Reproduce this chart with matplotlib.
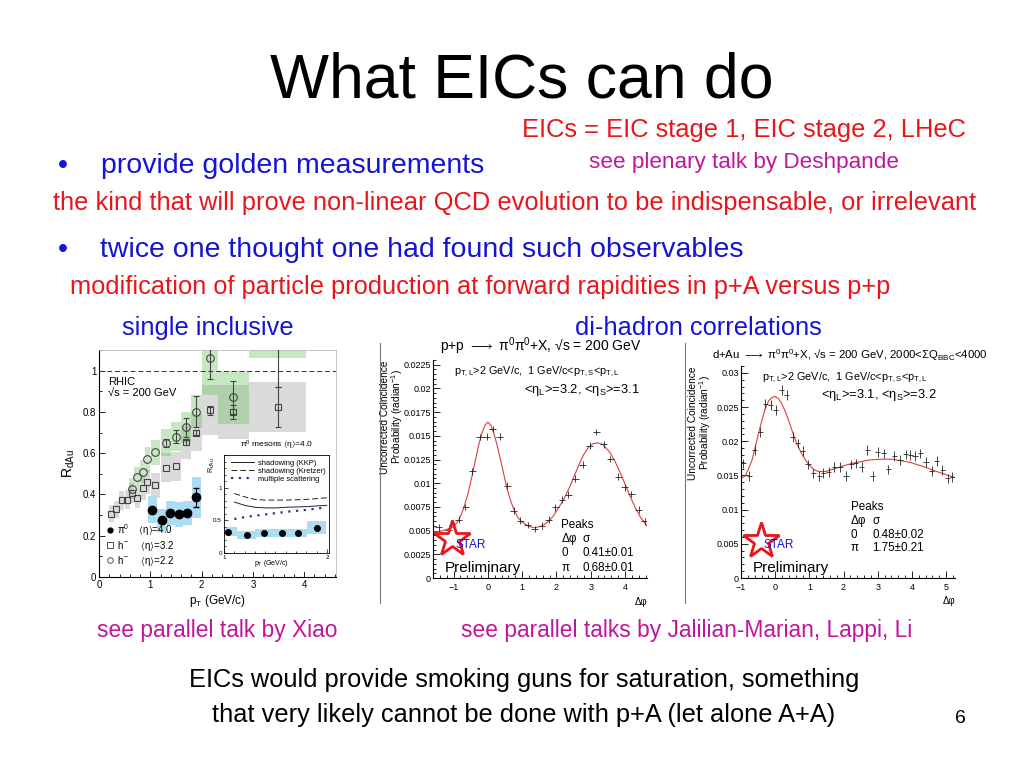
import numpy as np
import matplotlib
matplotlib.use("Agg")
import matplotlib.pyplot as plt
from matplotlib.lines import Line2D
from matplotlib.ticker import MultipleLocator, FuncFormatter

plt.rcParams['font.family'] = ['Liberation Sans', 'DejaVu Sans']
plt.rcParams['mathtext.default'] = 'regular'

RED = '#e8161c'
BLUE = '#1414d2'
MAGENTA = '#c0169c'
nan = np.nan

# ---- single inclusive R_dAu ----
# h- <eta>=2.2 (open circles, green boxes)
h22_pt = [0.64, 0.74, 0.85, 0.94, 1.10, 1.30, 1.50, 1.70, 1.90, 2.16, 2.62, 3.48]
h22_r = [0.428, 0.485, 0.51, 0.57, 0.605, 0.65, 0.68, 0.725, 0.80, 1.06, 0.87, 1.25]
h22_err_lo = [nan, nan, nan, nan, nan, 0.02, 0.03, 0.045, 0.075, 0.10, 0.08, 0.33]
h22_err_hi = [nan, nan, nan, nan, nan, 0.02, 0.03, 0.045, 0.075, 0.10, 0.08, 0.30]
h22_sys = [0.05, 0.05, 0.055, 0.06, 0.06, 0.065, 0.07, 0.075, 0.08, 0.18, 0.13, 0.19]
h22_dx = [0.05, 0.05, 0.05, 0.05, 0.08, 0.1, 0.1, 0.1, 0.1, 0.15, 0.3, 0.55]

# h- <eta>=3.2 (open squares, grey boxes)
h32_pt = [0.24, 0.34, 0.44, 0.55, 0.64, 0.75, 0.86, 0.94, 1.10, 1.30, 1.50, 1.70, 1.90, 2.16, 2.62, 3.48]
h32_r = [0.307, 0.328, 0.372, 0.375, 0.407, 0.385, 0.43, 0.46, 0.444, 0.53, 0.536, 0.654, 0.70, 0.808, 0.80, 0.824]
h32_err = [nan, nan, nan, nan, nan, nan, nan, nan, nan, nan, nan, 0.012, 0.014, 0.022, 0.035, 0.095]
h32_sys = [0.04, 0.04, 0.045, 0.045, 0.05, 0.05, 0.055, 0.06, 0.06, 0.07, 0.07, 0.08, 0.09, 0.12, 0.13, 0.12]
h32_dx = [0.05, 0.05, 0.05, 0.05, 0.05, 0.05, 0.05, 0.05, 0.08, 0.1, 0.1, 0.1, 0.1, 0.15, 0.3, 0.55]

# pi0 <eta>=4.0 (filled circles, blue boxes)
pi0_pt = [1.04, 1.22, 1.39, 1.56, 1.72, 1.90]
pi0_r = [0.326, 0.275, 0.31, 0.304, 0.31, 0.386]
pi0_err = [nan, nan, nan, nan, nan, 0.047]
pi0_sys = [0.065, 0.055, 0.06, 0.06, 0.06, 0.10]
pi0_dx = [0.09, 0.09, 0.085, 0.085, 0.085, 0.09]

# inset model curves
mod_pt = [1.1, 1.2, 1.3, 1.4, 1.5, 1.6, 1.8, 2.0]
kkp_r = [0.78, 0.73, 0.70, 0.69, 0.69, 0.70, 0.71, 0.73]
kretzer_r = [0.91, 0.86, 0.82, 0.81, 0.81, 0.81, 0.82, 0.845]
mscat_r = [0.52, 0.55, 0.57, 0.59, 0.61, 0.63, 0.66, 0.70]

# ---- di-hadron correlations ----
pp_phi = [-1.43, -1.14, -0.85, -0.66, -0.46, -0.24, -0.04, 0.14, 0.34, 0.56, 0.75, 0.95, 1.16, 1.36, 1.58,
          1.77, 1.97, 2.16, 2.34, 2.55, 2.77, 2.97, 3.16, 3.38, 3.57, 3.80, 3.99, 4.18, 4.40, 4.57]
pp_prob = [0.00534, 0.0051, 0.00615, 0.00749, 0.01124, 0.01487, 0.0149, 0.01572, 0.0149, 0.00973, 0.0071,
           0.00604, 0.00559, 0.00517, 0.00552, 0.00615, 0.00745, 0.00826, 0.00879, 0.01048, 0.01195,
           0.01395, 0.0154, 0.0141, 0.01255, 0.0107, 0.00956, 0.00886, 0.0072, 0.00597]
pp_fit_phi = [-1.6, -1.3, -1.0, -0.85, -0.71, -0.58, -0.46, -0.36, -0.27, -0.18, -0.09, 0.0, 0.09, 0.18,
              0.27, 0.36, 0.46, 0.56, 0.66, 0.75, 0.87, 1.0, 1.17, 1.34, 1.5, 1.63, 1.78, 1.92, 2.06, 2.21,
              2.36, 2.50, 2.65, 2.79, 2.94, 3.08, 3.2, 3.35, 3.57, 3.72, 3.86, 4.0, 4.15, 4.3, 4.45, 4.64]
pp_fit = [0.0048, 0.0050, 0.0054, 0.0061, 0.0073, 0.0089, 0.0108, 0.0125, 0.0140, 0.0152, 0.0161, 0.01645,
          0.0161, 0.0152, 0.0140, 0.0126, 0.0110, 0.0094, 0.0082, 0.0073, 0.0064, 0.0059, 0.0055, 0.0053,
          0.0054, 0.0056, 0.0060, 0.0066, 0.0074, 0.0083, 0.0094, 0.0106, 0.0119, 0.0130, 0.0138, 0.0142,
          0.01425, 0.0141, 0.0132, 0.0122, 0.0111, 0.0099, 0.0086, 0.0074, 0.0064, 0.0055]

dau_phi = [-0.93, -0.76, -0.60, -0.44, -0.29, -0.13, 0.02, 0.19, 0.34, 0.51, 0.66, 0.81, 0.96, 1.12, 1.29,
           1.41, 1.56, 1.73, 1.90, 2.07, 2.22, 2.36, 2.53, 2.70, 2.85, 3.0, 3.17, 3.31, 3.49, 3.65, 3.82,
           3.95, 4.09, 4.24, 4.41, 4.58, 4.73, 4.89, 5.05, 5.18]
dau_prob = [0.01676, 0.01491, 0.0187, 0.02137, 0.02551, 0.02526, 0.02453, 0.02745, 0.02672, 0.02064,
            0.01968, 0.0186, 0.01662, 0.01531, 0.01491, 0.01539, 0.01554, 0.01627, 0.01627, 0.01491,
            0.01662, 0.01676, 0.01627, 0.0187, 0.01491, 0.01845, 0.01822, 0.01589, 0.01783, 0.01724,
            0.01808, 0.01797, 0.01783, 0.01822, 0.017, 0.01564, 0.01714, 0.01579, 0.01458, 0.01481]
dau_fit_phi = [-1.0, -0.88, -0.78, -0.68, -0.58, -0.49, -0.39, -0.29, -0.19, -0.10, 0.0, 0.1, 0.19, 0.29,
               0.39, 0.51, 0.63, 0.75, 0.88, 1.0, 1.12, 1.25, 1.37, 1.5, 1.75, 2.0, 2.24, 2.5, 2.73, 3.0,
               3.22, 3.45, 3.70, 3.95, 4.19, 4.45, 4.68, 4.95, 5.17, 5.26]
dau_fit = [0.0146, 0.0149, 0.0160, 0.0172, 0.0192, 0.0211, 0.0230, 0.0248, 0.0259, 0.0264, 0.02655, 0.0262,
           0.0255, 0.0244, 0.0231, 0.0213, 0.0197, 0.0184, 0.0173, 0.0165, 0.0159, 0.0156, 0.01555, 0.0156,
           0.0160, 0.0164, 0.01676, 0.0170, 0.01724, 0.01735, 0.01739, 0.01735, 0.01714, 0.0169, 0.01652,
           0.0161, 0.01564, 0.0152, 0.01481, 0.0147]


def px(x, y, w, h):
    # pixel box (left, top, width, height) -> figure fraction rect
    return [x / 1024, 1 - (y + h) / 768, w / 1024, h / 768]


fig = plt.figure(figsize=(10.24, 7.68), dpi=100)


# ---------- slide text ----------
def txt(x, y, s, size, color, ha='left'):
    fig.text(x / 1024, 1 - y / 768, s, fontsize=size, color=color, ha=ha, va='baseline')


txt(522, 97, 'What EICs can do', 45, 'black', ha='center')
txt(522, 137, 'EICs = EIC stage 1, EIC stage 2, LHeC', 18.4, RED)
txt(58, 173, '•', 20.5, BLUE)
txt(101, 173, 'provide golden measurements', 20.5, BLUE)
txt(589, 168, 'see plenary talk by Deshpande', 16.2, MAGENTA)
txt(53, 210, 'the kind that will prove non-linear QCD evolution to be indispensable, or irrelevant', 18.4, RED)
txt(58, 257, '•', 20.5, BLUE)
txt(100, 257, 'twice one thought one had found such observables', 20.5, BLUE)
txt(70, 294, 'modification of particle production at forward rapidities in p+A versus p+p', 18.3, RED)
txt(122, 335, 'single inclusive', 18.3, BLUE)
txt(575, 335, 'di-hadron correlations', 18.3, BLUE)
txt(97, 637, 'see parallel talk by Xiao', 16.4, MAGENTA)
txt(461, 637, 'see parallel talks by Jalilian-Marian, Lappi, Li', 16.4, MAGENTA)
txt(524, 687, 'EICs would provide smoking guns for saturation, something', 18.3, 'black', ha='center')
txt(524, 722, 'that very likely cannot be done with p+A (let alone A+A)', 18.3, 'black', ha='center')
txt(955, 723, '6', 14, 'black')

# panel borders
for xb in (380, 685):
    fig.add_artist(Line2D([xb / 1024] * 2, [1 - 343 / 768, 1 - 603 / 768], color='#777777', lw=0.8))

# ---------- R_dAu panel ----------
ax = fig.add_axes(px(99, 350, 237, 227))
ax.set_xlim(0, 4.62)
ax.set_ylim(0, 1.10)

h32_lo = np.array(h32_r) - np.array(h32_sys)
ax.bar(h32_pt, 2 * np.array(h32_sys), bottom=h32_lo, width=2 * np.array(h32_dx),
       color='#dadada', lw=0, zorder=1)
h22_lo = np.array(h22_r) - np.array(h22_sys)
ax.bar(h22_pt, 2 * np.array(h22_sys), bottom=h22_lo, width=2 * np.array(h22_dx),
       color='#6cc063', alpha=0.38, lw=0, zorder=2)
pi0_lo = np.array(pi0_r) - np.array(pi0_sys)
ax.bar(pi0_pt, 2 * np.array(pi0_sys), bottom=pi0_lo, width=2 * np.array(pi0_dx),
       color='#abdcf1', lw=0, zorder=2)

ax.axhline(1, ls=(0, (5, 3)), color='#333333', lw=0.7, zorder=3)

ax.errorbar(h32_pt, h32_r, yerr=h32_err, fmt='s', ms=5, mfc='none', mec='#444444', mew=0.8,
            ecolor='#444444', elinewidth=0.8, capsize=2.5, zorder=4)
ax.errorbar(h22_pt, h22_r, yerr=[h22_err_lo, h22_err_hi], fmt='o', ms=5.5, mfc='none', mec='#444444',
            mew=0.8, ecolor='#444444', elinewidth=0.8, capsize=2.5, zorder=4)
ax.errorbar(pi0_pt, pi0_r, yerr=pi0_err, fmt='o', ms=6, color='black', elinewidth=0.8, capsize=2.5, zorder=4)

ax.xaxis.set_major_locator(MultipleLocator(1))
ax.xaxis.set_minor_locator(MultipleLocator(0.2))
ax.yaxis.set_major_locator(MultipleLocator(0.2))
ax.yaxis.set_minor_locator(MultipleLocator(0.1))
ax.yaxis.set_major_formatter(FuncFormatter(lambda v, p: '%g' % round(v, 4)))
ax.tick_params(which='both', direction='in', width=0.6, labelsize=7, pad=2)
ax.tick_params(which='major', length=4)
ax.tick_params(which='minor', length=2)
for s in ('top', 'right'):
    ax.spines[s].set_color('#bbbbbb')
    ax.spines[s].set_linewidth(0.6)
ax.set_xlabel('p$_T$ (GeV/c)', fontsize=8.5, labelpad=2)
ax.set_ylabel('R$_{dAu}$', fontsize=10, labelpad=4)
ax.text(0.04, 0.88, 'RHIC\n√s = 200 GeV', transform=ax.transAxes, fontsize=8, va='top', linespacing=1.05)

leg_h = [Line2D([], [], marker='o', ls='none', color='black', ms=3.5),
         Line2D([], [], marker='s', ls='none', mfc='none', mec='#333333', mew=0.6, ms=4),
         Line2D([], [], marker='o', ls='none', mfc='none', mec='#333333', mew=0.6, ms=4)]
leg_l = [r'$\pi^0$    $\langle\eta\rangle$=4.0', r'$h^-$    $\langle\eta\rangle$=3.2',
         r'$h^-$    $\langle\eta\rangle$=2.2']
ax.legend(leg_h, leg_l, loc='lower left', bbox_to_anchor=(0.0, 0.01), fontsize=7, frameon=False,
          handlelength=0.8, handletextpad=0.4, labelspacing=0.2, borderpad=0.2)

# inset
bg = fig.add_axes(px(210, 443, 126, 129))
bg.set_xticks([])
bg.set_yticks([])
for s in bg.spines.values():
    s.set_visible(False)
bg.set_zorder(5)

ins = fig.add_axes(px(224, 455, 105, 98))
ins.set_zorder(6)
ins.set_xlim(1, 2.02)
ins.set_ylim(0, 1.5)
ins.bar(pi0_pt, 2 * np.array(pi0_sys), bottom=pi0_lo, width=2 * np.array(pi0_dx), color='#abdcf1', lw=0)
ins.plot(pi0_pt, pi0_r, 'o', color='black', ms=4)
l1, = ins.plot(mod_pt, kkp_r, '-', color='#222222', lw=0.7)
l2, = ins.plot(mod_pt, kretzer_r, ls=(0, (6, 3)), color='#222222', lw=0.7)
l3, = ins.plot(mod_pt, mscat_r, ls=(0, (1, 2.5)), color='#2b3590', lw=1.6)
ins.legend([l1, l2, l3], ['shadowing (KKP)', 'shadowing (Kretzer)', 'multiple scattering'],
           loc='upper left', bbox_to_anchor=(0.02, 1.01), fontsize=5.4, frameon=False,
           handlelength=3.0, handletextpad=0.5, labelspacing=0.1, borderpad=0.2)
ins.set_xticks([1, 2])
ins.set_yticks([0, 0.5, 1])
ins.xaxis.set_minor_locator(MultipleLocator(0.1))
ins.yaxis.set_minor_locator(MultipleLocator(0.1))
ins.yaxis.set_major_formatter(FuncFormatter(lambda v, p: '%g' % v))
ins.tick_params(which='both', direction='in', width=0.5, labelsize=4.5, pad=1.5)
ins.tick_params(which='major', length=3)
ins.tick_params(which='minor', length=1.5)
for s in ins.spines.values():
    s.set_linewidth(0.6)
ins.text(0.45, -0.05, 'p$_T$ (GeV/c)', transform=ins.transAxes, fontsize=5, ha='center', va='top')
ins.text(-0.07, 0.98, 'R$_{dAu}$', transform=ins.transAxes, fontsize=5, rotation=90, ha='right', va='top')
ins.text(0.5, 1.03, r'$\pi^0$ mesons $\langle\eta\rangle$=4.0', transform=ins.transAxes, fontsize=6,
         ha='center', va='bottom')


# ---------- di-hadron panels ----------
def corr_panel(rect, phi, prob, xerr, yerr, fit_phi, fit_prob, xlim, ylim, ystep,
               title, title_x, title_size, eta_text, eta_x, peaks, peaks_x, peaks_y, star_xy, star_txt,
               ylab_x):
    a = fig.add_axes(rect)
    a.set_xlim(*xlim)
    a.set_ylim(*ylim)
    a.plot(fit_phi, fit_prob, color='#e23b3b', lw=0.8)
    a.errorbar(phi, prob, xerr=xerr, yerr=yerr, fmt='none', ecolor='#222222', elinewidth=0.6)
    a.xaxis.set_major_locator(MultipleLocator(1))
    a.xaxis.set_minor_locator(MultipleLocator(0.2))
    a.yaxis.set_major_locator(MultipleLocator(ystep))
    a.yaxis.set_minor_locator(MultipleLocator(ystep / 5))
    a.yaxis.set_major_formatter(FuncFormatter(lambda v, p: '%g' % round(v, 6)))
    a.tick_params(which='both', direction='in', width=0.6, labelsize=6.5, pad=1.5)
    a.tick_params(axis='x', pad=3.5)
    a.tick_params(which='major', length=5)
    a.tick_params(which='minor', length=2.5)
    a.spines['top'].set_visible(False)
    a.spines['right'].set_visible(False)
    a.text(title_x, 1.015, title, transform=a.transAxes, fontsize=title_size, va='bottom')
    a.text(0.10, 0.945, 'p$_{T,L}$>2 GeV/c,  1 GeV/c<p$_{T,S}$<p$_{T,L}$', transform=a.transAxes,
           fontsize=7.8, va='center')
    a.text(eta_x, 0.862, eta_text, transform=a.transAxes, fontsize=9.3, va='center', ha='right')
    a.text(ylab_x, 1.0, 'Uncorrected Coincidence\nProbability (radian$^{-1}$)', transform=a.transAxes,
           fontsize=7.3, rotation=90, ha='center', va='top', linespacing=0.95)
    a.text(1.0, -0.085, 'Δφ', transform=a.transAxes, fontsize=7, ha='right', va='top')
    for i, (c1, c2) in enumerate(peaks):
        a.text(peaks_x, peaks_y - i * 0.065, c1, transform=a.transAxes, fontsize=8.4, va='center')
        a.text(peaks_x + 0.1, peaks_y - i * 0.065, c2, transform=a.transAxes, fontsize=8.4, va='center')
    a.plot(star_xy[0], star_xy[1], marker='*', ms=27, mfc='none', mec=RED, mew=2,
           transform=a.transAxes, clip_on=False)
    a.text(star_txt[0], star_txt[1], 'STAR', transform=a.transAxes, fontsize=8.5, color=BLUE,
           va='center')
    a.text(0.056, 0.045, 'Preliminary', transform=a.transAxes, fontsize=11, va='center')
    return a


corr_panel(px(433, 360, 214, 218), pp_phi, pp_prob, 0.1, 0.00035, pp_fit_phi, pp_fit,
           (-1.6, 4.64), (0, 0.0230), 0.0025,
           r'p+p $\longrightarrow$ $\pi^0\pi^0$+X, √s = 200 GeV', 0.035, 10,
           r'<$\eta_L$>=3.2, <$\eta_S$>=3.1', 0.965,
           [('Peaks', ''), ('Δφ', 'σ'), ('0', '0.41±0.01'), ('π', '0.68±0.01')], 0.60, 0.243,
           (0.09, 0.18), (0.107, 0.151), -0.19)

corr_panel(px(741, 366, 214, 212), dau_phi, dau_prob, 0.075, 0.0007, dau_fit_phi, dau_fit,
           (-1, 5.26), (0, 0.031), 0.005,
           r'd+Au $\longrightarrow$ $\pi^0\pi^0$+X, √s = 200 GeV, 2000<ΣQ$_{BBC}$<4000', -0.135, 8.2,
           r'<$\eta_L$>=3.1, <$\eta_S$>=3.2', 0.917,
           [('Peaks', ''), ('Δφ', 'σ'), ('0', '0.48±0.02'), ('π', '1.75±0.21')], 0.514, 0.335,
           (0.093, 0.175), (0.103, 0.156), -0.19)

fig.savefig('out.png', dpi=100)
